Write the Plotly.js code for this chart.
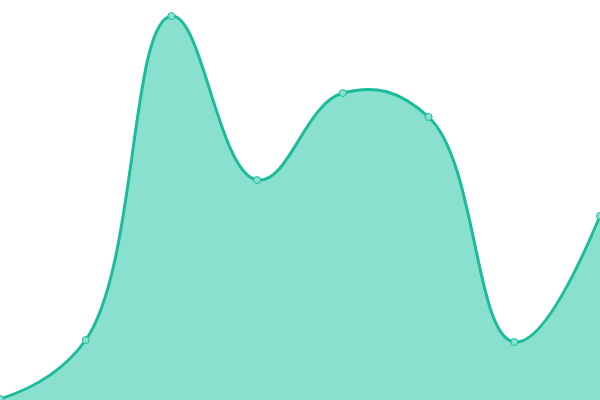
<!DOCTYPE html>
<html>
<head>
<meta charset="utf-8">
<script src="https://cdn.plot.ly/plotly-3.0.1.min.js"></script>
<style>
  html, body { margin: 0; padding: 0; background: #fff; }
  #chart { width: 600px; height: 400px; }
</style>
</head>
<body>
<div id="chart"></div>
<script>
// points (0..400 scale, bottom = 0)
var xs = [0, 1, 2, 3, 4, 5, 6, 7];
var values = [1, 60, 384, 220, 307, 283, 58, 184];

var trace = {
  x: xs,
  y: values,
  type: 'scatter',
  mode: 'lines+markers',
  fill: 'tozeroy',
  fillcolor: '#8ae0cf',
  line: { color: '#1abc9c', width: 3, shape: 'spline', smoothing: 1.2 },
  marker: { size: 7, color: '#8ae0cf', line: { color: '#1abc9c', width: 1 } },
  cliponaxis: false,
  hoverinfo: 'none'
};

var layout = {
  width: 600,
  height: 400,
  margin: { l: 0, r: 0, t: 0, b: 0 },
  paper_bgcolor: '#fff',
  plot_bgcolor: '#fff',
  showlegend: false,
  xaxis: { range: [0, 7], visible: false, fixedrange: true },
  yaxis: { range: [0, 400], visible: false, fixedrange: true }
};

Plotly.newPlot('chart', [trace], layout, { staticPlot: true, displayModeBar: false });
</script>
</body>
</html>
